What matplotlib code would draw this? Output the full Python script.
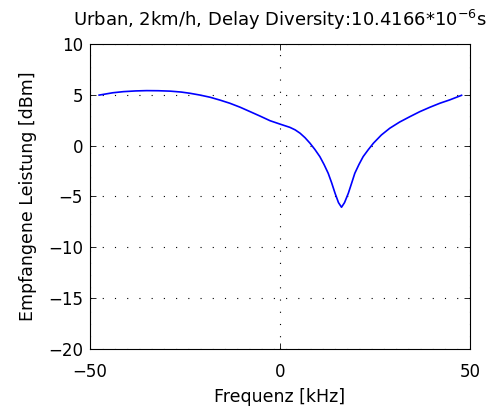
import matplotlib
matplotlib.use("Agg")
import matplotlib.pyplot as plt

plt.rcParams['font.family'] = ['DejaVu Sans']

freq_khz = [-47.6, -44.0, -41.2, -38.0, -35.1, -32.0, -28.9, -26.0, -23.7, -21.0, -18.4,
            -15.8, -13.2, -10.5, -7.9, -5.2, -2.6, 0.0, 2.6, 4.0, 5.3, 6.6, 7.9, 9.2, 10.5,
            11.6, 12.7, 13.6, 14.5, 15.4, 16.2, 17.0, 18.0, 18.9, 19.7, 20.8, 21.9, 23.2,
            24.6, 26.7, 28.9, 31.5, 34.2, 36.8, 39.5, 42.1, 44.7, 47.8]
power_dbm = [4.97, 5.2, 5.31, 5.38, 5.41, 5.40, 5.36, 5.27, 5.15, 4.97, 4.76,
             4.48, 4.17, 3.78, 3.35, 2.9, 2.45, 2.12, 1.8, 1.55, 1.22, 0.78, 0.24, -0.38, -1.08,
             -1.85, -2.72, -3.65, -4.68, -5.6, -6.06, -5.6, -4.68, -3.65, -2.72, -1.85, -1.08, -0.42,
             0.24, 1.05, 1.71, 2.32, 2.85, 3.34, 3.78, 4.17, 4.5, 4.95]
xticks = [-50, 0, 50]
yticks = [-20, -15, -10, -5, 0, 5, 10]

fig = plt.figure(figsize=(4.9, 4.07), dpi=100)
ax = fig.add_axes([0.1837, 0.1425, 0.7753, 0.7495])
ax.plot(freq_khz, power_dbm, color='#0000ff', lw=1.2)
ax.set_xlim(-50, 50)
ax.set_ylim(-20, 10)
ax.set_xticks(xticks)
ax.set_yticks(yticks)
ax.set_xticklabels(['\u221250', '0', '50'])
ax.set_yticklabels(['\u221220', '\u221215', '\u221210', '\u22125', '0', '5', '10'])
ax.grid(True, color='black', linestyle=(0, (1, 10)), lw=0.8)
ax.tick_params(direction='in', top=True, right=True, length=4, labelsize=12, width=0.6)
ax.tick_params(axis='x', pad=10)
ax.tick_params(axis='y', pad=5)
for s in ax.spines.values():
    s.set_linewidth(0.8)
ax.set_xlabel('Frequenz [kHz]', fontsize=12.5, labelpad=5)
ax.set_ylabel('Empfangene Leistung [dBm]', fontsize=12.5, labelpad=8)
ax.set_title('Urban, 2km/h, Delay Diversity:10.4166*10$^{-6}$s', fontsize=13, pad=13)
fig.savefig('out.png', dpi=100)
